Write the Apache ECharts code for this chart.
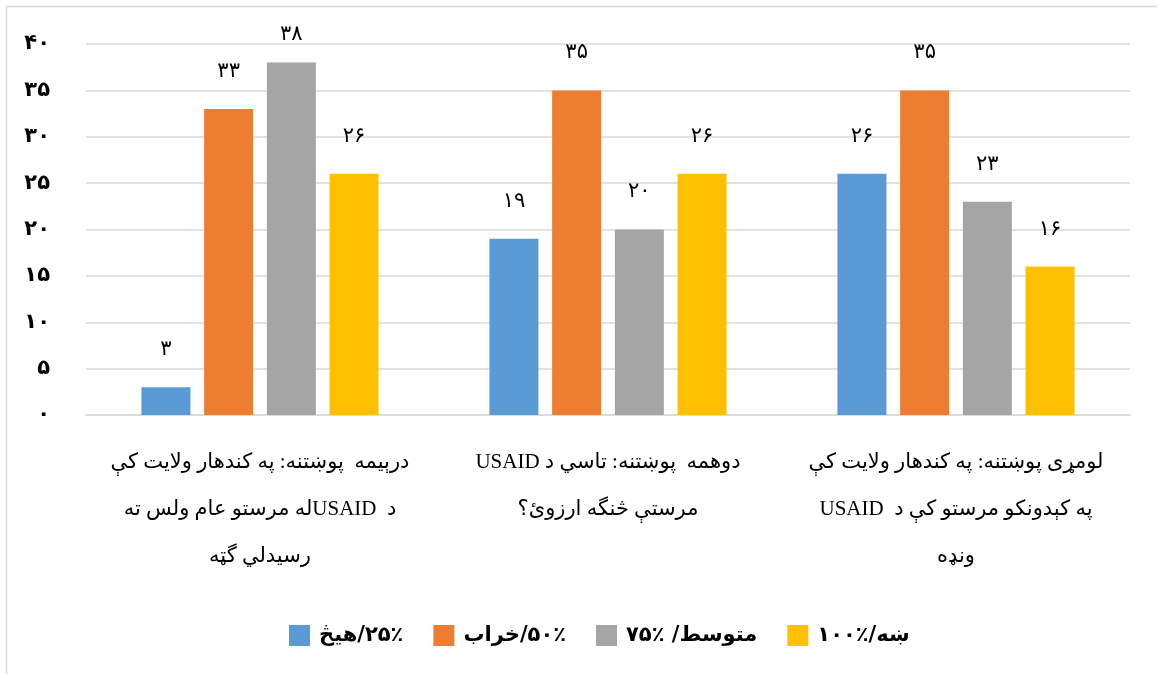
<!DOCTYPE html>
<html>
<head>
<meta charset="utf-8">
<script src="https://cdn.jsdelivr.net/npm/echarts@6/dist/echarts.min.js"></script>
<style>
  html, body { margin: 0; padding: 0; background: #fff; }
  #main { width: 1157px; height: 674px; }
</style>
</head>
<body>
<div id="main"></div>
<script>
// categories as drawn from left to right (third, second, first question)
var categories = [
  ['درېیمه  پوښتنه: په کندهار ولایت کې', 'د  USAIDله مرستو عام ولس ته', 'رسیدلي گټه'],
  ['دوهمه  پوښتنه: تاسي د USAID', 'مرستې څنگه ارزوئ؟'],
  ['لومړی پوښتنه: په کندهار ولایت کې', 'په کېدونکو مرستو کې د  USAID', 'ونډه']
];
// \u200E keeps the percent sign on the right of the number after Arabic letters
var seriesNames = ['۲۵٪/هیڅ', '۵۰٪/خراب', 'متوسط/ \u200E۷۵٪', 'ښه/\u200E۱۰۰٪'];
var noneValues = [3, 19, 26];
var badValues = [33, 35, 35];
var midValues = [38, 20, 23];
var goodValues = [26, 26, 16];
var colors = ['#5b9bd5', '#ed7d31', '#a5a5a5', '#ffc000'];

var faDigits = '۰۱۲۳۴۵۶۷۸۹';
function toFa(n) {
  return String(n).replace(/[0-9]/g, function (d) { return faDigits[+d]; });
}
// wrap each line in a right-to-left embedding so mixed text orders like the source
function rtl(lines) {
  return [].concat(lines).map(function (l) { return '\u202B' + l + '\u202C'; }).join('\n');
}

var chart = echarts.init(document.getElementById('main'));

var allValues = [noneValues, badValues, midValues, goodValues];
var series = seriesNames.map(function (name, i) {
  return {
    name: name,
    type: 'bar',
    barWidth: 49,
    barGap: '28%',
    itemStyle: { color: colors[i] },
    label: {
      show: true,
      position: 'top',
      distance: 27,
      color: '#000',
      fontSize: 21,
      fontFamily: 'DejaVu Sans',
      formatter: function (p) { return toFa(p.value); }
    },
    // keep labels inside the chart area, like the original does for the tallest bar
    labelLayout: function (p) {
      var minTop = 24;
      return p.labelRect.y < minTop ? { dy: minTop - p.labelRect.y } : {};
    },
    data: allValues[i]
  };
});

var option = {
  backgroundColor: '#fff',
  animation: false,
  graphic: [{
    type: 'rect',
    shape: { x: 6.5, y: 6.5, width: 1300, height: 800 },
    style: { fill: 'none', stroke: '#d9d9d9', lineWidth: 1.5 },
    silent: true
  }],
  grid: { left: 86, right: 27, top: 44, bottom: 259 },
  legend: {
    left: 284,
    top: 620,
    itemWidth: 21,
    itemHeight: 21,
    itemGap: 30,
    icon: 'rect',
    data: seriesNames,
    formatter: function (name) { return rtl(name); },
    textStyle: {
      fontSize: 21,
      fontWeight: 'bold',
      color: '#000',
      fontFamily: 'DejaVu Sans',
      padding: [0, 0, 0, 4]
    }
  },
  xAxis: {
    type: 'category',
    data: categories.map(rtl),
    axisLine: { lineStyle: { color: '#d9d9d9', width: 1.5 } },
    axisTick: { show: false },
    axisLabel: {
      interval: 0,
      margin: 24,
      color: '#000',
      fontSize: 21,
      lineHeight: 47,
      fontFamily: 'Liberation Serif, DejaVu Sans',
      align: 'center',
      verticalAlign: 'top'
    }
  },
  yAxis: {
    type: 'value',
    min: 0,
    max: 40,
    interval: 5,
    axisLine: { show: false },
    axisTick: { show: false },
    splitLine: { lineStyle: { color: '#d9d9d9', width: 1.5 } },
    axisLabel: {
      margin: 36,
      color: '#000',
      fontSize: 21,
      fontWeight: 'bold',
      fontFamily: 'DejaVu Sans',
      formatter: function (v) { return toFa(v); }
    }
  },
  series: series
};

chart.setOption(option);
</script>
</body>
</html>
